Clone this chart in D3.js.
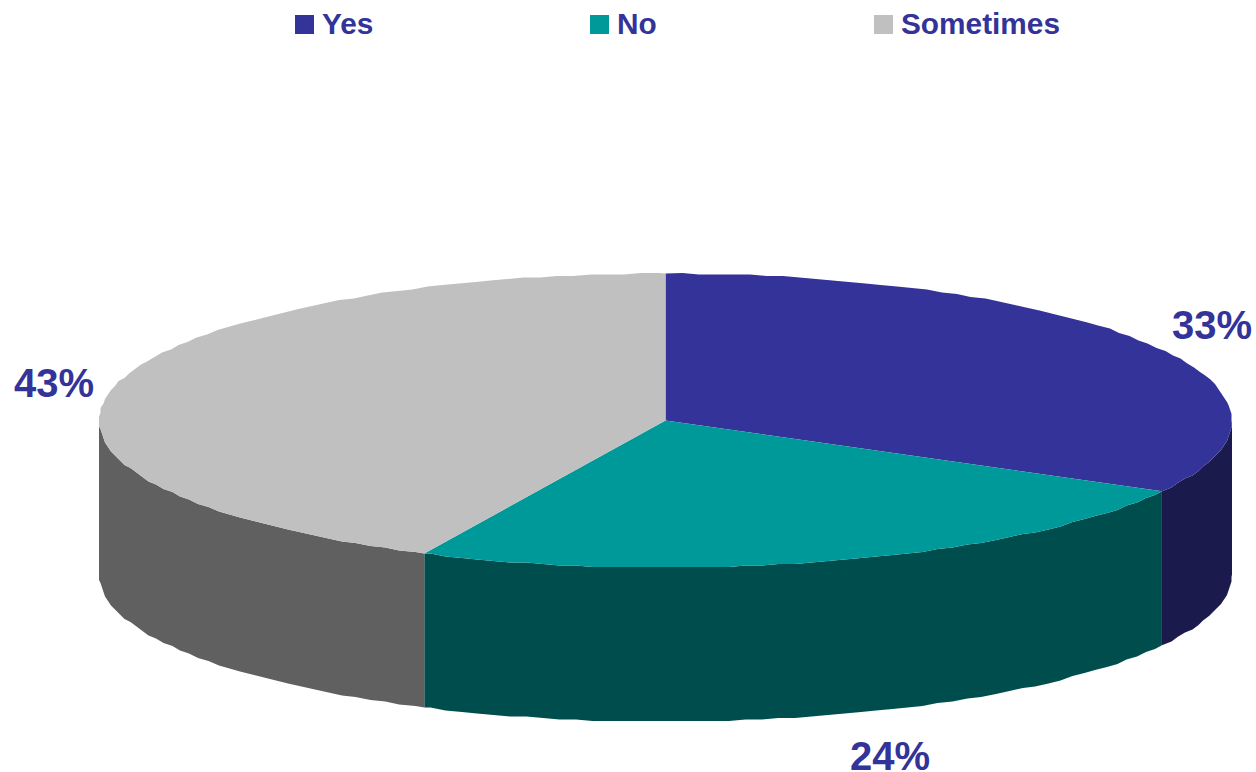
<!DOCTYPE html>
<meta charset="utf-8">
<style>
html,body{margin:0;background:#fff}
svg{display:block}
text{font-family:'Liberation Sans',Arial,sans-serif;font-weight:bold;fill:#333399}
</style>
<svg id="svg" width="1256" height="772"></svg>
<script src="https://d3js.org/d3.v7.min.js"></script>
<script>
var categories = ['Yes', 'No', 'Sometimes']
var values = [33, 24, 43]
var topColours = ['#333399', '#009999', '#C0C0C0']
var sideColours = ['#1A1A4D', '#004D4D', '#606060']

var cx = 665.5, cy = 420.5, rx = 566.5, ry = 147, depth = 154
var step = 0.03, snap = 1.5
var svg = d3.select('#svg')

var colour = d3.scaleOrdinal().domain(categories).range(topColours)
var sideColour = d3.scaleOrdinal().domain(categories).range(sideColours)

var slices = d3.pie().sort(null).value(d => d.value)(
  categories.map((c, i) => ({name: c, value: values[i]}))
)

// flat angle -> point on the tilted rim
var px = a => cx + rx * Math.sin(a)
var py = a => cy - ry * Math.cos(a)
var line = d3.line()

// the original rim is a slightly rough polygon, so sample it coarsely
function rimPoints(a0, a1) {
  var inner = d3.range(Math.ceil(a0 / step + 0.01) * step, a1 - 0.01, step)
    .map(a => [Math.round(px(a) / snap) * snap, Math.round(py(a) / snap) * snap])
  return [[px(a0), py(a0)]].concat(inner).concat([[px(a1), py(a1)]])
}

// walls, only the front half can be seen
var walls = svg.append('g')
slices.forEach(s => {
  var a0 = Math.max(s.startAngle, Math.PI / 2)
  var a1 = Math.min(s.endAngle, Math.PI * 3 / 2)
  if (a1 <= a0) return
  var rim = rimPoints(a0, a1)
  var low = rim.map(p => [p[0], p[1] + depth]).reverse()
  walls.append('path')
    .attr('d', line(rim.concat(low)) + 'Z')
    .attr('fill', sideColour(s.data.name))
})

// top faces
svg.append('g')
  .selectAll('path')
  .data(slices)
  .enter().append('path')
  .attr('d', d => line([[cx, cy]].concat(rimPoints(d.startAngle, d.endAngle))) + 'Z')
  .attr('fill', d => colour(d.data.name))

// legend
var legendX = [295, 590, 874]
categories.forEach((c, i) => {
  svg.append('rect')
    .attr('x', legendX[i]).attr('y', 15)
    .attr('width', 19).attr('height', 19)
    .attr('fill', colour(c))
  svg.append('text')
    .attr('x', legendX[i] + 27).attr('y', 33.5)
    .style('font-size', '29.8px')
    .text(c)
})

// percent labels
var labelPos = [[1172, 339], [850, 770], [14, 397]]
slices.forEach((s, i) => {
  svg.append('text')
    .attr('x', labelPos[i][0]).attr('y', labelPos[i][1])
    .style('font-size', '40px')
    .text(d3.format('d')(s.value) + '%')
})
</script>
